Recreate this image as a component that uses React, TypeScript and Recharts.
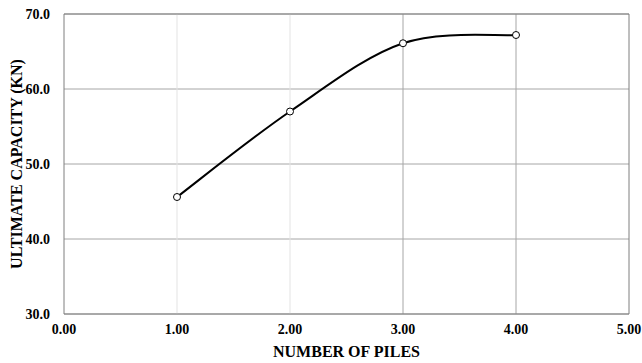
import React from "react";
import {
  LineChart,
  Line,
  XAxis,
  YAxis,
  CartesianGrid,
  ReferenceLine,
} from "recharts";

// values
const piles = [1, 2, 3, 4];
const capacity = [45.6, 57.0, 66.1, 67.2];
const xTicks = [0, 1, 2, 3, 4, 5];
const yTicks = [30, 40, 50, 60, 70];

const data = piles.map((p, i) => ({ piles: p, capacity: capacity[i] }));

const FONT = "'Liberation Serif', 'Times New Roman', serif";
const tickStyle = { fontFamily: FONT, fontWeight: 700, fontSize: 14, fill: "#000" };
const titleStyle = { fontFamily: FONT, fontWeight: 700, fontSize: 16, fill: "#000" };

// Excel-style smoothed line (Catmull-Rom through the points)
const excelSmooth = (ctx: any) => {
  let pts: [number, number][] = [];
  return {
    areaStart() {},
    areaEnd() {},
    lineStart() {
      pts = [];
    },
    point(x: number, y: number) {
      pts.push([+x, +y]);
    },
    lineEnd() {
      if (!pts.length) return;
      ctx.moveTo(pts[0][0], pts[0][1]);
      for (let i = 0; i < pts.length - 1; i++) {
        const p0 = pts[Math.max(i - 1, 0)];
        const p1 = pts[i];
        const p2 = pts[i + 1];
        const p3 = pts[Math.min(i + 2, pts.length - 1)];
        ctx.bezierCurveTo(
          p1[0] + (p2[0] - p0[0]) / 6,
          p1[1] + (p2[1] - p0[1]) / 6,
          p2[0] - (p3[0] - p1[0]) / 6,
          p2[1] - (p3[1] - p1[1]) / 6,
          p2[0],
          p2[1]
        );
      }
    },
  };
};

const App: React.FC = () => {
  return (
    <div style={{ position: "absolute", left: 0, top: 0, background: "#fff" }}>
      <LineChart
        width={642}
        height={363}
        data={data}
        margin={{ top: 14, right: 13, bottom: 0, left: 0 }}
      >
        <CartesianGrid vertical={false} stroke="#a6a6a6" />
        <ReferenceLine x={1} stroke="#e3e3e3" />
        <ReferenceLine x={2} stroke="#e3e3e3" />
        <ReferenceLine x={3} stroke="#a6a6a6" />
        <ReferenceLine x={4} stroke="#a6a6a6" />
        <ReferenceLine x={5} stroke="#7f7f7f" />
        <ReferenceLine y={70} stroke="#7f7f7f" />
        <XAxis
          type="number"
          dataKey="piles"
          domain={[0, 5]}
          ticks={xTicks}
          height={49}
          tickFormatter={(v: number) => v.toFixed(2)}
          tick={tickStyle}
          tickLine={false}
          tickMargin={4}
          axisLine={{ stroke: "#7f7f7f" }}
          label={{
            value: "NUMBER OF PILES",
            position: "insideBottom",
            offset: 6,
            style: titleStyle,
          }}
        />
        <YAxis
          type="number"
          domain={[30, 70]}
          ticks={yTicks}
          width={64}
          tickFormatter={(v: number) => v.toFixed(1)}
          tick={tickStyle}
          tickLine={false}
          tickMargin={8}
          axisLine={{ stroke: "#7f7f7f" }}
          label={{
            value: "ULTIMATE CAPACITY (KN)",
            angle: -90,
            position: "insideLeft",
            offset: 16,
            style: { ...titleStyle, textAnchor: "middle" },
          }}
        />
        <Line
          type={excelSmooth as any}
          dataKey="capacity"
          stroke="#000"
          strokeWidth={2}
          dot={{ r: 3.5, stroke: "#000", strokeWidth: 1, fill: "#fff" }}
          isAnimationActive={false}
        />
      </LineChart>
    </div>
  );
};

export default App;
